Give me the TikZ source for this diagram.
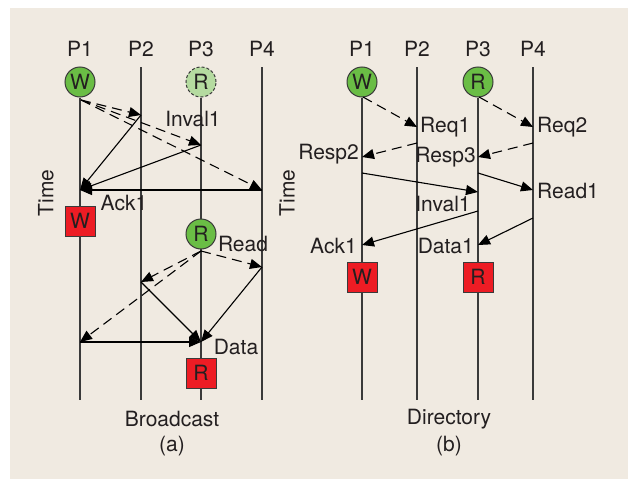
\documentclass[tikz,border=0pt]{standalone}
\usepackage{fontspec}
\setmainfont{TeX Gyre Heros}
\usetikzlibrary{arrows.meta}
\definecolor{bg}{HTML}{F0EAE1}
\definecolor{gr}{HTML}{6ABD45}
\definecolor{lgr}{HTML}{B5DBA0}
\definecolor{rd}{HTML}{ED1C24}
\definecolor{ln}{HTML}{3A3A3A}
\definecolor{tx}{HTML}{231F20}
\begin{document}
\begin{tikzpicture}[x=1pt,y=-1pt,
  lbl/.style={font=\fontsize{21}{23}\selectfont, text=tx, inner sep=0pt},
  life/.style={draw=ln, line width=1.3pt},
  msg/.style={draw=black, line width=1.1pt, -{Triangle[length=12pt,width=10pt]}},
  dmsg/.style={msg, dash pattern=on 10pt off 6pt},
  ev/.style={circle, draw=ln, line width=1pt, fill=gr, minimum size=30pt, inner sep=0pt, font=\fontsize{21}{23}\selectfont, text=tx},
  evpend/.style={ev, fill=lgr, dash pattern=on 3pt off 2pt},
  fin/.style={rectangle, draw=ln, line width=1pt, fill=rd, minimum width=30pt, minimum height=30pt, inner sep=0pt, font=\fontsize{21}{23}\selectfont, text=tx}
]
\useasboundingbox (0,0) rectangle (629,479);
\fill[bg] (10,8) rectangle (628,479);

% ---------- Panel (a) ----------
\foreach \n/\x in {1/80,2/141,3/201,4/262}{
  \node[lbl] (aP\n) at (\x,49) {P\n};
  \coordinate (aT\n) at (\x,67);
  \coordinate (aB\n) at (\x,400);
}
\node[evpend] (aR0) at (201,82) {R};
\node[ev] (aW) at (80,82) {W};
\draw[life] (aW) -- (aB1);
\draw[life] (aT2) -- (aB2);
\draw[life] (aR0) -- (aB3);
\draw[life] (aT4) -- (aB4);
\node[ev] (aR) at (201,234) {R};
\node[fin] (aWs) at (80,221) {W};
\node[fin] (aRs) at (201,373) {R};

\coordinate (a0) at (81,100);
\coordinate (a2) at (141,115);
\coordinate (a3) at (201,145);
\coordinate (a4) at (262,190);
\coordinate (a1) at (80,190);
\draw[dmsg] (a0) -- (a2);
\draw[dmsg] (a0) -- (a3);
\draw[dmsg] (a0) -- (a4);
\draw[msg] (a2) -- (a1);
\draw[msg] (a3) -- (a1);
\draw[msg] (a4) -- (a1);
\node[lbl] (aInv) at (193,119) {Inval1};
\node[lbl] (aAck) at (124,203) {Ack1};
\node[lbl, rotate=90] (aTime) at (46,193) {Time};

\coordinate (b0) at (201,251);
\coordinate (b4) at (262,267);
\coordinate (b2) at (141,282);
\coordinate (b1) at (80,342);
\coordinate (b3) at (201,342);
\draw[dmsg] (b0) -- (b4);
\draw[dmsg] (b0) -- (b2);
\draw[dmsg] (b0) -- (b1);
\draw[msg] (b2) -- (b3);
\draw[msg] (b4) -- (b3);
\draw[msg] (b1) -- (b3);
\node[lbl] (aRead) at (243,244) {Read};
\node[lbl] (aData) at (236,347) {Data};
\node[lbl] (aCap) at (172,419) {Broadcast};
\node[lbl] (aSub) at (172,446) {(a)};

% ---------- Panel (b) ----------
\foreach \n/\x in {1/362,2/417,3/478,4/533}{
  \node[lbl] (bP\n) at (\x,49) {P\n};
  \coordinate (bT\n) at (\x,67);
  \coordinate (bB\n) at (\x,400);
}
\node[ev] (bW) at (362,82) {W};
\node[ev] (bR) at (478,82) {R};
\draw[life] (bW) -- (bB1);
\draw[life] (bT2) -- (bB2);
\draw[life] (bR) -- (bB3);
\draw[life] (bT4) -- (bB4);
\node[fin] (bWs) at (362,277) {W};
\node[fin] (bRs) at (478,277) {R};

\coordinate (c1) at (363,97);
\coordinate (c2) at (417,127);
\coordinate (c3) at (479,97);
\coordinate (c4) at (533,127);
\draw[dmsg] (c1) -- (c2);
\draw[dmsg] (c3) -- (c4);
\node[lbl, anchor=west] (bReq1) at (420,127) {Req1};
\node[lbl, anchor=west] (bReq2) at (537,127) {Req2};

\coordinate (d2) at (417,143);
\coordinate (d1) at (362,157);
\coordinate (d4) at (533,143);
\coordinate (d3) at (478,157);
\draw[dmsg] (d2) -- (d1);
\draw[dmsg] (d4) -- (d3);
\node[lbl, anchor=east] (bResp2) at (359,154) {Resp2};
\node[lbl, anchor=east] (bResp3) at (476,157) {Resp3};

\coordinate (e1) at (362,173);
\coordinate (e3) at (478,192);
\coordinate (e3b) at (478,173);
\coordinate (e4) at (533,190);
\draw[msg] (e1) -- (e3);
\draw[msg] (e3b) -- (e4);
\node[lbl] (bInv) at (443,204) {Inval1};
\node[lbl, anchor=west] (bRead1) at (537,191) {Read1};

\coordinate (f3) at (478,211);
\coordinate (f1) at (362,245);
\coordinate (f4) at (533,218);
\coordinate (f3b) at (478,245);
\draw[msg] (f3) -- (f1);
\draw[msg] (f4) -- (f3b);
\node[lbl, anchor=east] (bAck) at (357,246) {Ack1};
\node[lbl, anchor=east] (bData) at (474,246) {Data1};
\node[lbl, rotate=90] (bTime) at (287,193) {Time};
\node[lbl] (bCap) at (449,419) {Directory};
\node[lbl] (bSub) at (449,446) {(b)};
\end{tikzpicture}
\end{document}
